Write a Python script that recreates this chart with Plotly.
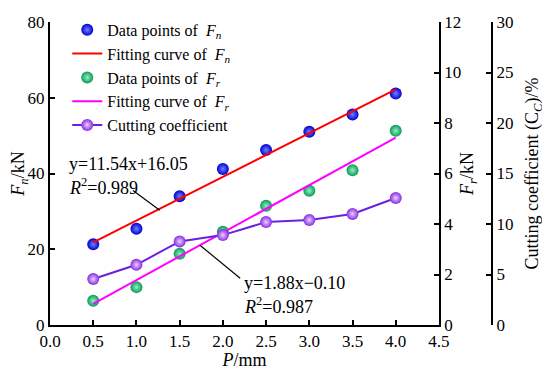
import plotly.graph_objects as go

P = [0.5, 1.0, 1.5, 2.0, 2.5, 3.0, 3.5, 4.0]
Fn = [21.3, 25.4, 34.0, 41.2, 46.2, 51.0, 55.6, 61.1]
Fr = [0.96, 1.50, 2.82, 3.69, 4.72, 5.32, 6.13, 7.69]
Cc = [4.55, 5.96, 8.27, 8.90, 10.19, 10.40, 11.00, 12.57]
fit_x = [0.5, 4.0]
fn_slope, fn_int = 11.54, 16.05
fr_slope, fr_int = 1.88, -0.10
fn_fit = [fn_slope * x + fn_int for x in fit_x]
fr_fit = [fr_slope * x + fr_int for x in fit_x]

FONT = "Liberation Serif"
fs = 18
tfs = 17

fig = go.Figure()
fig.add_trace(go.Scatter(x=P, y=Fn, mode="markers", name="Data points of  <i>F</i><sub><i>n</i></sub>",
    marker=dict(size=12, color="#0000d0", gradient=dict(type="radial", color="#7080ff")), yaxis="y"))
fig.add_trace(go.Scatter(x=fit_x, y=fn_fit, mode="lines", name="Fitting curve of  <i>F</i><sub><i>n</i></sub>",
    line=dict(color="#ff0000", width=2), yaxis="y"))
fig.add_trace(go.Scatter(x=P, y=Fr, mode="markers", name="Data points of  <i>F</i><sub><i>r</i></sub>",
    marker=dict(size=12, color="#0a9a5a", gradient=dict(type="radial", color="#90f0c0")), yaxis="y2"))
fig.add_trace(go.Scatter(x=fit_x, y=fr_fit, mode="lines", name="Fitting curve of  <i>F</i><sub><i>r</i></sub>",
    line=dict(color="#ff00ff", width=2), yaxis="y2"))
fig.add_trace(go.Scatter(x=P, y=Cc, mode="lines+markers", name="Cutting coefficient",
    line=dict(color="#6a20e0", width=2),
    marker=dict(size=12, color="#8a2be2", gradient=dict(type="radial", color="#e8d0ff")), yaxis="y3"))

axis_common = dict(showline=True, linecolor="black", linewidth=2, ticks="inside", ticklen=5,
                   tickwidth=2, tickcolor="black", showgrid=False, zeroline=False, automargin=False,
                   tickfont=dict(family=FONT, size=tfs, color="black"))

fig.update_layout(
    template="none",
    width=542, height=362,
    margin=dict(l=42, r=58, t=5, b=45),
    paper_bgcolor="white", plot_bgcolor="white",
    font=dict(family=FONT, size=fs, color="black"),
    xaxis=dict(range=[0, 4.5], domain=[0, 0.88], dtick=0.5, tickformat=".1f",
               title=dict(text="<i>P</i>/mm", font=dict(family=FONT, size=fs), standoff=0), **axis_common),
    yaxis=dict(range=[0, 80], dtick=20,
               title=dict(text="<i>F</i><sub><i>n</i></sub>/kN", font=dict(family=FONT, size=fs), standoff=4),
               **axis_common),
    yaxis2=dict(range=[0, 12], dtick=2, overlaying="y", side="right", anchor="x",
                title=dict(text="<i>F</i><sub><i>r</i></sub>/kN", font=dict(family=FONT, size=fs), standoff=0),
                **axis_common),
    yaxis3=dict(range=[0, 30], dtick=5, overlaying="y", side="right", anchor="free", position=1.0,
                title=dict(text="Cutting coefficient (C<sub><i>C</i></sub>)/%", font=dict(family=FONT, size=fs), standoff=12),
                **axis_common),
    legend=dict(x=0.039, y=1.03, xanchor="left", yanchor="top", bgcolor="rgba(0,0,0,0)",
                font=dict(family=FONT, size=16), tracegroupgap=0, itemwidth=30),
    showlegend=True,
)

fig.add_shape(type="line", xref="x", yref="y", x0=0.96, y0=35.5, x1=1.27, y1=30.3,
              line=dict(color="black", width=1.2))
fig.add_shape(type="line", xref="x", yref="y2", x0=1.735, y0=3.16, x1=2.2, y1=1.85,
              line=dict(color="black", width=1.2))

ann = [
    (0.2, 42.4, "y=11.54x+16.05"),
    (0.2, 36.6, "<i>R</i><sup>2</sup>=0.989"),
    (2.22, 11.0, "y=1.88x\u22120.10"),
    (2.22, 5.2, "<i>R</i><sup>2</sup>=0.987"),
]
for x, y, t in ann:
    fig.add_annotation(x=x, y=y, xref="x", yref="y", text=t, showarrow=False, xanchor="left",
                       yanchor="middle", font=dict(family=FONT, size=fs, color="black"))

fig.write_html("out.html")
